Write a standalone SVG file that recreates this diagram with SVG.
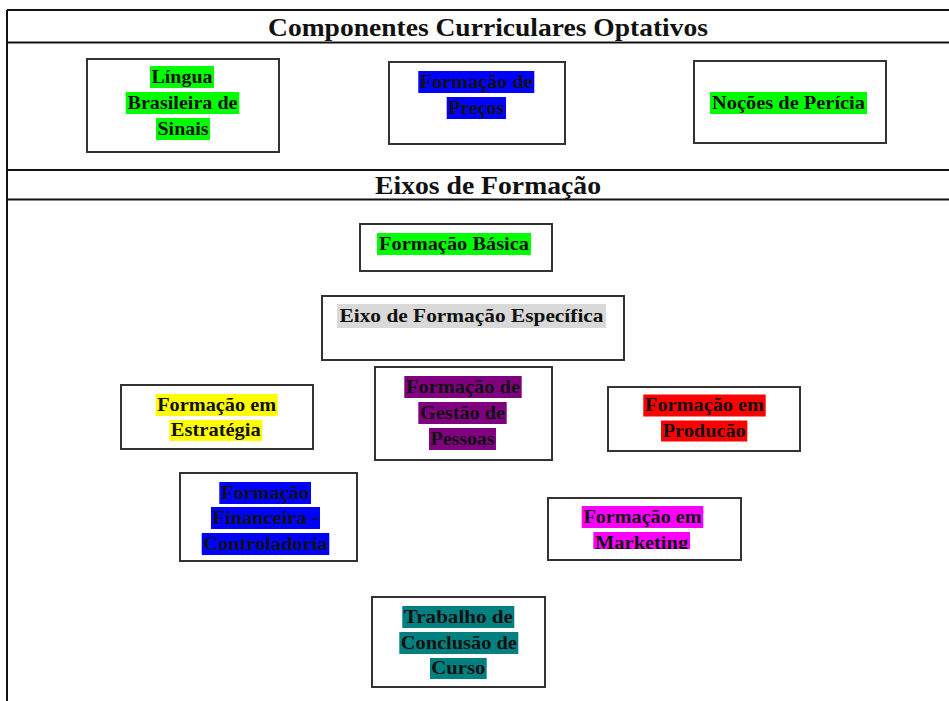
<svg xmlns="http://www.w3.org/2000/svg" width="949" height="701" viewBox="0 0 949 701">
<style>
.line{stroke:#111;stroke-width:2;fill:none}
.box{fill:#fff;stroke:#333;stroke-width:2}
.h{font-family:"Liberation Serif","Times New Roman",serif;font-weight:bold;font-size:26px;fill:#111;text-anchor:middle}
.t{font-family:"Liberation Serif","Times New Roman",serif;font-weight:bold;font-size:19px;fill:#111;text-anchor:middle}
.g{fill:#00ff00}.b{fill:#0000ff}.y{fill:#ffff00}.r{fill:#ff0000}.m{fill:#ff00ff}.p{fill:#800080}.c{fill:#008080}.s{fill:#d9d9d9}
</style>
<defs>
<clipPath id="clip9"><rect x="180" y="473" width="177" height="82"/></clipPath>
<clipPath id="clip10"><rect x="548" y="498" width="193" height="51"/></clipPath>
</defs>
<rect x="0" y="0" width="949" height="701" fill="#fff"/>
<g id="table">
<line class="line" x1="7" y1="10" x2="949" y2="10" stroke="#444"/>
<line class="line" x1="7" y1="10" x2="7" y2="701" stroke="#333"/>
<line class="line" x1="7" y1="42.5" x2="949" y2="42.5"/>
<line class="line" x1="7" y1="170" x2="949" y2="170"/>
<line class="line" x1="7" y1="199.5" x2="949" y2="199.5"/>
<text class="h" x="488" y="36" textLength="440" lengthAdjust="spacingAndGlyphs">Componentes Curriculares Optativos</text>
<text class="h" x="488" y="194" textLength="226" lengthAdjust="spacingAndGlyphs">Eixos de Formação</text>
</g>
<g id="connectors"></g>
<g id="n1">
<rect class="box" x="87" y="59" width="192" height="93"/>
<rect class="g" x="150" y="66" width="64" height="22"/>
<text class="t" x="182" y="82.5" textLength="61" lengthAdjust="spacingAndGlyphs">Língua</text>
<rect class="g" x="125.7" y="92" width="113.6" height="22"/>
<text class="t" x="182.5" y="108.5" textLength="110" lengthAdjust="spacingAndGlyphs">Brasileira de</text>
<rect class="g" x="156" y="118" width="54" height="22"/>
<text class="t" x="183" y="134.5" textLength="51" lengthAdjust="spacingAndGlyphs">Sinais</text>
</g>
<g id="n2">
<rect class="box" x="389" y="62" width="176" height="82"/>
<rect class="b" x="418.3" y="71" width="116" height="22"/>
<text class="t" x="476.3" y="87.5" textLength="113" lengthAdjust="spacingAndGlyphs">Formação de</text>
<rect class="b" x="446.7" y="97" width="59.3" height="22"/>
<text class="t" x="476.3" y="113.5" textLength="56" lengthAdjust="spacingAndGlyphs">Preços</text>
</g>
<g id="n3">
<rect class="box" x="694" y="61" width="192" height="82"/>
<rect class="g" x="710" y="92" width="157" height="22"/>
<text class="t" x="788.5" y="108.5" textLength="153" lengthAdjust="spacingAndGlyphs">Noções de Perícia</text>
</g>
<g id="n4">
<rect class="box" x="360" y="224" width="192" height="47"/>
<rect class="g" x="377" y="233" width="154" height="22"/>
<text class="t" x="454" y="249.5" textLength="150" lengthAdjust="spacingAndGlyphs">Formação Básica</text>
</g>
<g id="n5">
<rect class="box" x="322" y="296" width="302" height="64"/>
<rect class="s" x="337" y="304" width="269" height="24"/>
<text class="t" x="471.5" y="321.5" textLength="264" lengthAdjust="spacingAndGlyphs">Eixo de Formação Específica</text>
</g>
<g id="n6">
<rect class="box" x="121" y="385" width="192" height="64"/>
<rect class="y" x="155.7" y="394" width="122" height="22"/>
<text class="t" x="216.7" y="410.5" textLength="119" lengthAdjust="spacingAndGlyphs">Formação em</text>
<rect class="y" x="169.3" y="420" width="93" height="21"/>
<text class="t" x="215.8" y="436" textLength="90" lengthAdjust="spacingAndGlyphs">Estratégia</text>
</g>
<g id="n7">
<rect class="box" x="375" y="367" width="177" height="93"/>
<rect class="p" x="404.3" y="376" width="117.4" height="22"/>
<text class="t" x="463" y="392.5" textLength="114" lengthAdjust="spacingAndGlyphs">Formação de</text>
<rect class="p" x="418.3" y="402" width="88.4" height="22"/>
<text class="t" x="462.5" y="418.5" textLength="85" lengthAdjust="spacingAndGlyphs">Gestão de</text>
<rect class="p" x="429" y="428" width="67" height="22"/>
<text class="t" x="462.5" y="444.5" textLength="64" lengthAdjust="spacingAndGlyphs">Pessoas</text>
</g>
<g id="n8">
<rect class="box" x="608" y="387" width="192" height="64"/>
<rect class="r" x="643.3" y="394.5" width="122.4" height="22"/>
<text class="t" x="704.5" y="411" textLength="119" lengthAdjust="spacingAndGlyphs">Formação em</text>
<rect class="r" x="661" y="420.5" width="86.3" height="21"/>
<text class="t" x="704.2" y="436.5" textLength="83" lengthAdjust="spacingAndGlyphs">Producão</text>
</g>
<g id="n9">
<rect class="box" x="180" y="473" width="177" height="88"/>
<g clip-path="url(#clip9)">
<rect class="b" x="219.3" y="482" width="91.7" height="22"/>
<text class="t" x="265.2" y="498.5" textLength="88" lengthAdjust="spacingAndGlyphs">Formação</text>
<rect class="b" x="211" y="507" width="109" height="22"/>
<text class="t" x="265.5" y="523.5" textLength="106" lengthAdjust="spacingAndGlyphs">Financeira -</text>
<rect class="b" x="201.7" y="533" width="127.6" height="22"/>
<text class="t" x="265.5" y="549.5" textLength="124" lengthAdjust="spacingAndGlyphs">Controladoria</text>
</g>
</g>
<g id="n10">
<rect class="box" x="548" y="498" width="193" height="62"/>
<g clip-path="url(#clip10)">
<rect class="m" x="581.7" y="506" width="121.6" height="22"/>
<text class="t" x="642.5" y="522.5" textLength="118" lengthAdjust="spacingAndGlyphs">Formação em</text>
<rect class="m" x="593.3" y="532" width="96.7" height="22"/>
<text class="t" x="641.6" y="548.5" textLength="93" lengthAdjust="spacingAndGlyphs">Marketing</text>
</g>
</g>
<g id="n11">
<rect class="box" x="372" y="597" width="173" height="90"/>
<rect class="c" x="402.3" y="606" width="112" height="22"/>
<text class="t" x="458.3" y="622.5" textLength="109" lengthAdjust="spacingAndGlyphs">Trabalho de</text>
<rect class="c" x="399.3" y="632" width="119" height="22"/>
<text class="t" x="458.8" y="648.5" textLength="116" lengthAdjust="spacingAndGlyphs">Conclusão de</text>
<rect class="c" x="430" y="658" width="56.7" height="21"/>
<text class="t" x="458.3" y="674" textLength="54" lengthAdjust="spacingAndGlyphs">Curso</text>
</g>
</svg>
